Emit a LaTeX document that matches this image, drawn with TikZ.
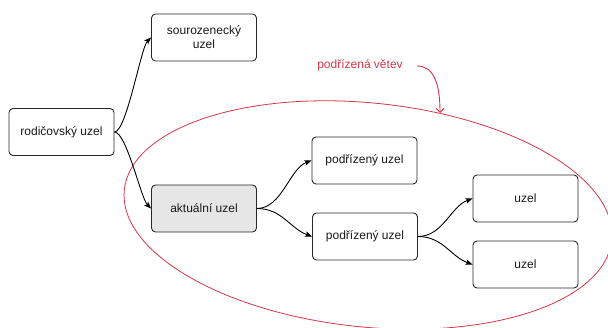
\documentclass[tikz,border=0pt]{standalone}
\usepackage{fontspec}
\setmainfont{Liberation Sans}
\usetikzlibrary{arrows.meta}
\definecolor{branchred}{RGB}{214,54,70}
\definecolor{boxline}{RGB}{40,40,40}
\definecolor{curfill}{RGB}{230,230,230}
\tikzset{
  treebox/.style={draw=boxline, line width=0.9pt, rounded corners=4pt,
    minimum width=105pt, minimum height=47pt, align=center, text=black!90,
    font=\fontsize{12}{14}\selectfont, inner sep=2pt},
  link/.style={draw=black, line width=0.9pt,
    -{Stealth[length=7pt,width=5.5pt,inset=1.5pt]}},
  redlink/.style={draw=branchred, line width=0.9pt,
    -{Straight Barb[length=4pt,width=8pt]}},
}
\begin{document}
\begin{tikzpicture}[x=1pt,y=-1pt]
  \useasboundingbox (0,0) rectangle (608,327);
  \clip (0,0) rectangle (608,327);

  % subtree outline
  \draw[branchred, line width=0.8pt] (368,215) ellipse [x radius=245pt, y radius=112pt, rotate=-5.9];

  % nodes
  \node[treebox] (rod)  at (61.5,132)   {rodičovský uzel};
  \node[treebox] (sour) at (204,37.5)   {sourozenecký\\uzel};
  \node[treebox, fill=curfill] (akt) at (204,208.5) {aktuální uzel};
  \node[treebox] (pt)   at (364.5,160.5) {podřízený uzel};
  \node[treebox] (pb)   at (365,236.5)  {podřízený uzel};
  \node[treebox] (u1)   at (525.5,198.5) {uzel};
  \node[treebox] (u2)   at (525.5,264.5) {uzel};

  % label of the subtree
  \node[text=branchred, font=\fontsize{12}{14}\selectfont, inner sep=0pt] (lbl) at (360,65) {podřízená větev};
  \coordinate (lblarr) at (417,66);
  \coordinate (tip) at (440,113);
  \draw[redlink] (lblarr) .. controls (434,66) and (440,84) .. (tip);

  % connectors
  \draw[link] (rod.east) .. controls +(12,0) and +(-10,10) .. (sour.west);
  \draw[link] (rod.east) .. controls +(12,0) and +(-10,-10) .. (akt.west);
  \draw[link] (akt.east) .. controls +(25,0) and +(-22,8) .. (pt.west);
  \draw[link] (akt.east) .. controls +(25,0) and +(-22,-8) .. (pb.west);
  \draw[link] (pb.east) .. controls +(25,0) and +(-22,8) .. (u1.west);
  \draw[link] (pb.east) .. controls +(25,0) and +(-22,-8) .. (u2.west);
\end{tikzpicture}
\end{document}
